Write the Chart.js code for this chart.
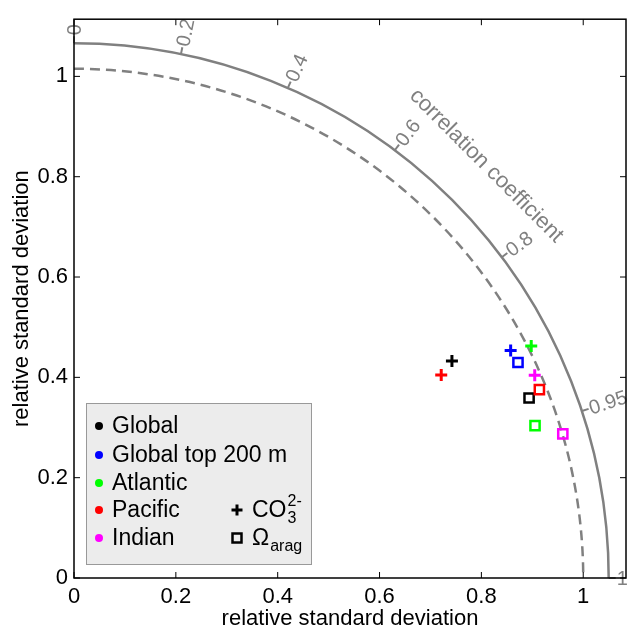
<!DOCTYPE html>
<html>
<head>
<meta charset="utf-8">
<script src="https://cdn.jsdelivr.net/npm/chart.js@4/dist/chart.umd.min.js"></script>
<style>
  html, body { margin: 0; padding: 0; background: #fff; }
  #wrap { width: 635px; height: 630px; }
</style>
</head>
<body>
<div id="wrap"><canvas id="taylor" width="635" height="630"></canvas></div>
<script>
// regions and colours
const regions = ['Global', 'Global top 200 m', 'Atlantic', 'Pacific', 'Indian'];
const regionColors = ['#000000', '#0000ff', '#00ff00', '#ff0000', '#ff00ff'];

// relative std and correlation
const co3Std = [0.859, 0.970, 1.010, 0.827, 0.991];
const co3Corr = [0.864, 0.884, 0.889, 0.872, 0.913];
const omegaStd = [0.963, 0.972, 0.955, 0.988, 1.002];
const omegaCorr = [0.928, 0.897, 0.948, 0.925, 0.958];

// axes
const axisTicks = [0, 0.2, 0.4, 0.6, 0.8, 1];
const corrTicks = [0, 0.2, 0.4, 0.6, 0.8, 0.95, 1];
const refStd = 1.0;
const outerStd = 1.05;

const GREY = '#808080';
const FONT = '"Liberation Sans", Arial, Helvetica, sans-serif';

function toXY(std, corr) {
    const a = Math.acos(corr);
    return { x: std * Math.cos(a), y: std * Math.sin(a) };
}

function fmt(v) {
    return String(Math.round(v * 100) / 100);
}

const taylorGrid = {
    id: 'taylorGrid',
    beforeDatasetsDraw(chart) {
        const { ctx, scales: { x, y } } = chart;
        const ox = x.getPixelForValue(0);
        const oy = y.getPixelForValue(0);
        const rPx = r => x.getPixelForValue(r) - ox;

        ctx.save();
        ctx.strokeStyle = GREY;
        ctx.fillStyle = GREY;
        ctx.lineWidth = 2.5;

        // reference std arc (dashed)
        ctx.setLineDash([10, 6]);
        ctx.beginPath();
        ctx.arc(ox, oy, rPx(refStd), -Math.PI / 2, 0);
        ctx.stroke();
        ctx.setLineDash([]);

        // correlation arc
        ctx.beginPath();
        ctx.arc(ox, oy, rPx(outerStd), -Math.PI / 2, 0);
        ctx.stroke();

        const r0 = rPx(outerStd);
        const r1 = r0 + 7;
        ctx.font = '20px ' + FONT;
        ctx.textAlign = 'left';
        ctx.textBaseline = 'middle';
        corrTicks.forEach(c => {
            const a = Math.acos(c);
            ctx.lineWidth = 2;
            ctx.beginPath();
            ctx.moveTo(ox + r0 * Math.cos(a), oy - r0 * Math.sin(a));
            ctx.lineTo(ox + r1 * Math.cos(a), oy - r1 * Math.sin(a));
            ctx.stroke();
            ctx.save();
            ctx.translate(ox + (r1 + 1) * Math.cos(a), oy - (r1 + 1) * Math.sin(a));
            ctx.rotate(-a);
            ctx.fillText(fmt(c), 0, 1);
            ctx.restore();
        });

        // arc title
        const ta = Math.PI / 4;
        const tr = rPx(1.145);
        ctx.save();
        ctx.translate(ox + tr * Math.cos(ta), oy - tr * Math.sin(ta));
        ctx.rotate(Math.PI / 2 - ta);
        ctx.font = '22px ' + FONT;
        ctx.textAlign = 'center';
        ctx.fillText('correlation coefficient', 0, 0);
        ctx.restore();

        ctx.restore();
    },
    afterDraw(chart) {
        const { ctx, chartArea: ca, scales: { x, y } } = chart;
        ctx.save();

        // box and inward ticks
        ctx.strokeStyle = '#000';
        ctx.lineWidth = 1.5;
        ctx.strokeRect(ca.left, ca.top, ca.right - ca.left, ca.bottom - ca.top);
        ctx.lineWidth = 1;
        const tl = 6;
        axisTicks.forEach(v => {
            const px = x.getPixelForValue(v);
            ctx.beginPath();
            ctx.moveTo(px, ca.bottom); ctx.lineTo(px, ca.bottom - tl);
            ctx.moveTo(px, ca.top); ctx.lineTo(px, ca.top + tl);
            const py = y.getPixelForValue(v);
            ctx.moveTo(ca.left, py); ctx.lineTo(ca.left + tl, py);
            ctx.moveTo(ca.right, py); ctx.lineTo(ca.right - tl, py);
            ctx.stroke();
        });

        // legend
        const lx = 86, ly = 403, lw = 225, lh = 161;
        ctx.fillStyle = '#ececec';
        ctx.fillRect(lx, ly, lw, lh);
        ctx.strokeStyle = '#999999';
        ctx.lineWidth = 1;
        ctx.strokeRect(lx + 0.5, ly + 0.5, lw, lh);

        const rowY = [426, 455, 483, 510, 538];
        ctx.font = '23px ' + FONT;
        ctx.textAlign = 'left';
        ctx.textBaseline = 'middle';
        regions.forEach((name, i) => {
            ctx.fillStyle = regionColors[i];
            ctx.beginPath();
            ctx.arc(99, rowY[i], 4, 0, Math.PI * 2);
            ctx.fill();
            ctx.fillStyle = '#000';
            ctx.fillText(name, 112, rowY[i] + 1);
        });

        // marker keys
        const mx = 237;
        ctx.strokeStyle = '#000';
        ctx.lineWidth = 3;
        ctx.beginPath();
        ctx.moveTo(mx - 5.5, rowY[3]); ctx.lineTo(mx + 5.5, rowY[3]);
        ctx.moveTo(mx, rowY[3] - 5.5); ctx.lineTo(mx, rowY[3] + 5.5);
        ctx.stroke();
        ctx.lineWidth = 2.5;
        ctx.strokeRect(mx - 4.5, rowY[4] - 4.5, 9, 9);

        ctx.fillStyle = '#000';
        ctx.font = '23px ' + FONT;
        ctx.fillText('CO', 252, rowY[3] + 1);
        let w = ctx.measureText('CO').width;
        ctx.font = '16px ' + FONT;
        ctx.fillText('3', 252 + w + 1, rowY[3] + 9);
        ctx.fillText('2-', 252 + w + 1, rowY[3] - 8);

        ctx.font = '23px ' + FONT;
        ctx.fillText('\u03A9', 252, rowY[4] + 1);
        w = ctx.measureText('\u03A9').width;
        ctx.font = '16px ' + FONT;
        ctx.fillText('arag', 252 + w + 1, rowY[4] + 9);

        ctx.restore();
    }
};

Chart.defaults.font.family = FONT;
Chart.defaults.color = '#000';

new Chart(document.getElementById('taylor'), {
    type: 'scatter',
    data: {
        datasets: [
            {
                label: 'CO3',
                data: co3Std.map((s, i) => toXY(s, co3Corr[i])),
                pointStyle: 'cross',
                pointRadius: 6,
                pointHoverRadius: 6,
                pointBorderWidth: 3,
                pointBorderColor: regionColors,
                pointBackgroundColor: regionColors
            },
            {
                label: 'Omega arag',
                data: omegaStd.map((s, i) => toXY(s, omegaCorr[i])),
                pointStyle: 'rect',
                pointRadius: 6.5,
                pointHoverRadius: 6.5,
                pointBorderWidth: 2.5,
                pointBorderColor: regionColors,
                pointBackgroundColor: 'rgba(0,0,0,0)'
            }
        ]
    },
    options: {
        responsive: false,
        animation: false,
        events: [],
        layout: { padding: { top: 11, right: 9, left: 0, bottom: 0 } },
        plugins: {
            legend: { display: false },
            tooltip: { enabled: false }
        },
        scales: {
            x: {
                type: 'linear',
                min: 0,
                max: 1.084,
                afterFit: s => { s.height = 52; },
                afterBuildTicks: s => { s.ticks = axisTicks.map(v => ({ value: v })); },
                grid: { display: false, drawTicks: false },
                border: { display: false },
                ticks: {
                    padding: 6,
                    maxRotation: 0,
                    font: { size: 22 },
                    callback: v => fmt(v)
                },
                title: {
                    display: true,
                    text: 'relative standard deviation',
                    font: { size: 22, lineHeight: 1 },
                    padding: { top: 0, bottom: 0 }
                }
            },
            y: {
                type: 'linear',
                min: 0,
                max: 1.114,
                afterFit: s => { s.width = 74; },
                afterBuildTicks: s => { s.ticks = axisTicks.map(v => ({ value: v })); },
                grid: { display: false, drawTicks: false },
                border: { display: false },
                ticks: {
                    padding: 6,
                    font: { size: 22 },
                    callback: v => fmt(v)
                },
                title: {
                    display: true,
                    text: 'relative standard deviation',
                    font: { size: 22, lineHeight: 1 },
                    padding: { top: 11, bottom: 0 }
                }
            }
        }
    },
    plugins: [taylorGrid]
});
</script>
</body>
</html>
